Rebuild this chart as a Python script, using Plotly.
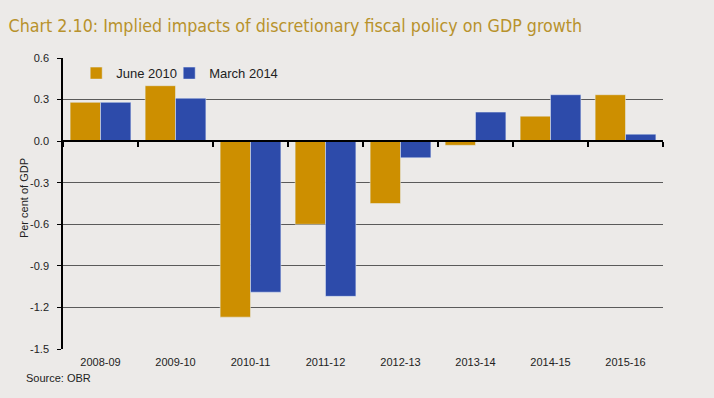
import plotly.graph_objects as go

categories = ["2008-09", "2009-10", "2010-11", "2011-12", "2012-13", "2013-14", "2014-15", "2015-16"]
june_2010 = [0.28, 0.40, -1.27, -0.60, -0.45, -0.03, 0.18, 0.335]
march_2014 = [0.28, 0.31, -1.09, -1.12, -0.12, 0.21, 0.335, 0.05]
y_ticks = [0.6, 0.3, 0.0, -0.3, -0.6, -0.9, -1.2, -1.5]
y_tick_text = ["0.6", "0.3", "0.0", "-0.3", "-0.6", "-0.9", "-1.2", "-1.5"]
y_range = [-1.5, 0.6]

GOLD = "#CD8F00"
BLUE = "#2D4BAA"
BG = "#ECEAE8"
TXT = "#222222"

fig = go.Figure()
fig.add_trace(go.Bar(x=categories, y=june_2010, name="June 2010", marker_color=GOLD, legend="legend"))
fig.add_trace(go.Bar(x=categories, y=march_2014, name="March 2014", marker_color=BLUE, legend="legend2"))
# invisible helper trace for the zero-line tick axis
fig.add_trace(go.Scatter(x=[-0.5, len(categories) - 0.5], y=[0, 0], xaxis="x2", mode="lines",
                         line=dict(width=0), showlegend=False, hoverinfo="skip"))

zero_pos = (0 - y_range[0]) / (y_range[1] - y_range[0])

legend_style = dict(
    orientation="h", y=0.948, xanchor="left", yanchor="middle",
    bgcolor="rgba(0,0,0,0)", font=dict(size=13, color=TXT), itemwidth=30,
)

fig.update_layout(
    width=714, height=398,
    margin=dict(l=63, r=51, t=58, b=49, autoexpand=False),
    paper_bgcolor=BG, plot_bgcolor=BG,
    barmode="group", bargap=0.19, bargroupgap=0.0,
    font=dict(family="Liberation Sans, Arial, sans-serif", color=TXT, size=11),
    xaxis=dict(
        type="category", range=[-0.5, len(categories) - 0.5],
        showline=False, ticks="", showgrid=False, automargin=False,
        tickfont=dict(size=11, color=TXT), ticklabelstandoff=5,
    ),
    xaxis2=dict(
        overlaying="x", anchor="free", position=zero_pos, side="bottom",
        range=[-0.5, len(categories) - 0.5], automargin=False,
        tickvals=[i - 0.5 for i in range(len(categories) + 1)],
        showticklabels=False, ticks="outside", ticklen=5, tickwidth=1.5, tickcolor="#000000",
        showline=True, linecolor="#000000", linewidth=2, showgrid=False, zeroline=False,
    ),
    yaxis=dict(
        range=y_range, tickvals=y_ticks, ticktext=y_tick_text,
        showgrid=True, gridcolor="#5a5a5a", gridwidth=1,
        zeroline=False, automargin=False,
        showline=True, linecolor="#000000", linewidth=1.5,
        ticks="outside", ticklen=4, tickcolor="#000000",
        tickfont=dict(size=11, color=TXT), ticklabelstandoff=6,
    ),
    legend=dict(x=0.022, **legend_style),
    legend2=dict(x=0.177, **legend_style),
    title=dict(
        text="Chart 2.10: Implied impacts of discretionary fiscal policy on GDP growth",
        x=0.012, xanchor="left", y=0.935, yanchor="middle",
        font=dict(family="Liberation Sans Narrow, DejaVu Sans Condensed, Arial Narrow, sans-serif",
                  size=17.7, color="#B8922C"),
    ),
    annotations=[
        dict(text="Per cent of GDP", xref="paper", yref="paper", x=-0.066, y=0.52,
             xanchor="center", yanchor="middle", textangle=-90, showarrow=False,
             font=dict(size=11, color=TXT)),
        dict(text="Source: OBR", xref="paper", yref="paper", x=-0.065, y=-0.1,
             xanchor="left", yanchor="middle", showarrow=False,
             font=dict(size=11, color=TXT)),
    ],
)

fig.write_html("out.html", config={"displayModeBar": False},
               post_script="document.body.style.margin='0';")
